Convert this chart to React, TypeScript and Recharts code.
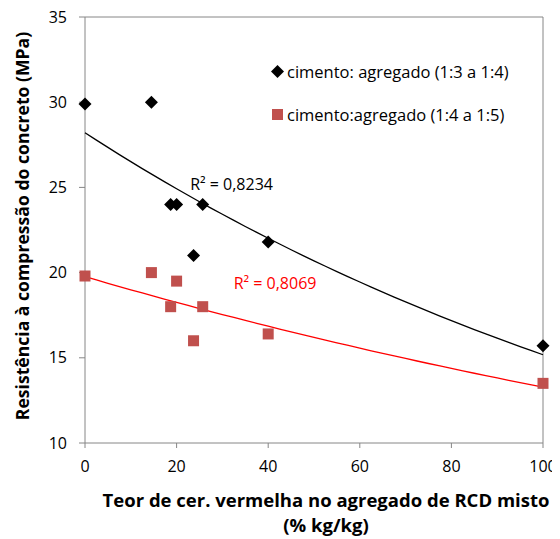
import React from 'react';
import { ScatterChart, Scatter, XAxis, YAxis, ReferenceLine, ReferenceDot, Label } from 'recharts';

const ratioA = [0, 14.5, 18.7, 20, 23.7, 25.7, 40, 100];
const strengthA = [29.9, 30, 24, 24, 21, 24, 21.8, 15.7];
const ratioB = [0, 14.5, 18.7, 20, 23.7, 25.7, 40, 100];
const strengthB = [19.8, 20, 18, 19.5, 16, 18, 16.4, 13.5];
const seriesNames = ['cimento: agregado (1:3 a 1:4)', 'cimento:agregado (1:4 a 1:5)'];
const r2Texts = ['R² = 0,8234', 'R² = 0,8069'];
const r2Anchor = [
  { x: 32, y: 25.2 },
  { x: 41.5, y: 19.4 },
];
const xTicks = [0, 20, 40, 60, 80, 100];
const yTicks = [10, 15, 20, 25, 30, 35];
const xTitle = ['Teor de cer. vermelha no agregado de RCD misto', '(% kg/kg)'];
const yTitle = 'Resistência à compressão do concreto (MPa)';

const FONT = '"Open Sans", "Liberation Sans", sans-serif';
const AXIS = '#868686';
const RED_MARK = '#C0504D';

function toPoints(xs: number[], ys: number[]) {
  return xs.map((x, i) => ({ x, y: ys[i] }));
}

// Exponential least-squares trendline (as the spreadsheet trendline)
function expTrend(xs: number[], ys: number[]) {
  const n = xs.length;
  const ly = ys.map((v) => Math.log(v));
  const mx = xs.reduce((a, b) => a + b, 0) / n;
  const my = ly.reduce((a, b) => a + b, 0) / n;
  let sxy = 0, sxx = 0;
  for (let i = 0; i < n; i++) {
    sxy += (xs[i] - mx) * (ly[i] - my);
    sxx += (xs[i] - mx) * (xs[i] - mx);
  }
  const b = sxy / sxx;
  const a = Math.exp(my - b * mx);
  const lo = Math.min(...xs), hi = Math.max(...xs);
  const pts = [];
  const steps = 40;
  for (let k = 0; k <= steps; k++) {
    const x = lo + ((hi - lo) * k) / steps;
    pts.push({ x, y: a * Math.exp(b * x) });
  }
  return pts;
}

const dataA = toPoints(ratioA, strengthA);
const dataB = toPoints(ratioB, strengthB);
const trendA = expTrend(ratioA, strengthA);
const trendB = expTrend(ratioB, strengthB);

const Diamond = (props: any) => {
  const { cx, cy } = props;
  const r = 6.5;
  return <polygon points={`${cx},${cy - r} ${cx + r},${cy} ${cx},${cy + r} ${cx - r},${cy}`} fill="#000" />;
};
const Square = (props: any) => {
  const { cx, cy } = props;
  const s = 11;
  return <rect x={cx - s / 2} y={cy - s / 2} width={s} height={s} fill={RED_MARK} />;
};
const NoShape = () => <g />;

const XTitle = (props: any) => {
  const vb = props.viewBox;
  const cx = vb.x + vb.width / 2 + 12;
  return (
    <text textAnchor="middle" fontFamily={FONT} fontWeight="bold" fontSize={18.5} fill="#000">
      <tspan x={cx} y={vb.y + vb.height + 34}>{xTitle[0]}</tspan>
      <tspan x={cx} y={vb.y + vb.height + 59}>{xTitle[1]}</tspan>
    </text>
  );
};

const YTitle = (props: any) => {
  const vb = props.viewBox;
  const cy = vb.y + vb.height / 2 - 4;
  const x = 14;
  return (
    <text
      x={x}
      y={cy}
      transform={`rotate(-90, ${x}, ${cy})`}
      textAnchor="middle"
      dominantBaseline="central"
      fontFamily={FONT}
      fontWeight="bold"
      fontSize={17.6}
      fill="#000"
    >
      {yTitle}
    </text>
  );
};

export default function App() {
  const W = 552;
  const H = 539;
  return (
    <div style={{ position: 'relative', width: W, height: H, marginTop: -8, fontFamily: FONT }}>
      <ScatterChart width={W} height={H} margin={{ top: 17, right: 17, bottom: 66, left: 17 }}>
        <XAxis
          type="number"
          dataKey="x"
          domain={[0, 100]}
          ticks={xTicks}
          height={30}
          axisLine={{ stroke: AXIS }}
          tickLine={{ stroke: AXIS }}
          tickSize={5}
          tickMargin={13}
          tick={{ fill: '#000', fontSize: 16, fontFamily: FONT }}
          interval={0}
        >
          <Label content={<XTitle />} />
        </XAxis>
        <YAxis
          type="number"
          dataKey="y"
          domain={[10, 35]}
          ticks={yTicks}
          width={60}
          axisLine={{ stroke: AXIS }}
          tickLine={{ stroke: AXIS }}
          tickSize={6}
          tickMargin={12}
          tick={{ fill: '#000', fontSize: 16, fontFamily: FONT }}
          interval={0}
        >
          <Label content={<YTitle />} />
        </YAxis>
        <ReferenceLine y={35} stroke={AXIS} />
        <ReferenceLine x={100} stroke={AXIS} />
        <Scatter data={trendA} line={{ stroke: '#000', strokeWidth: 1.3 }} lineType="joint" shape={<NoShape />} isAnimationActive={false} />
        <Scatter data={trendB} line={{ stroke: '#FF0000', strokeWidth: 1.3 }} lineType="joint" shape={<NoShape />} isAnimationActive={false} />
        <Scatter data={dataA} shape={<Diamond />} isAnimationActive={false} />
        <Scatter data={dataB} shape={<Square />} isAnimationActive={false} />
        <ReferenceDot
          x={r2Anchor[0].x}
          y={r2Anchor[0].y}
          r={0}
          stroke="none"
          label={{ value: r2Texts[0], position: 'center', fill: '#000', fontSize: 16, fontFamily: FONT }}
        />
        <ReferenceDot
          x={r2Anchor[1].x}
          y={r2Anchor[1].y}
          r={0}
          stroke="none"
          label={{ value: r2Texts[1], position: 'center', fill: '#FF0000', fontSize: 16, fontFamily: FONT }}
        />
      </ScatterChart>
      <div style={{ position: 'absolute', left: 262, top: 61, fontSize: 16.5, color: '#000', lineHeight: '22px' }}>
        <div style={{ display: 'flex', alignItems: 'center', height: 22 }}>
          <svg width={16} height={16} style={{ marginRight: 1 }}>
            <polygon points="7.5,1 14,7.5 7.5,14 1,7.5" fill="#000" />
          </svg>
          <span>{seriesNames[0]}</span>
        </div>
        <div style={{ display: 'flex', alignItems: 'center', height: 22, marginTop: 21 }}>
          <svg width={16} height={16} style={{ marginRight: 1 }}>
            <rect x={2} y={2} width={11} height={11} fill={RED_MARK} />
          </svg>
          <span>{seriesNames[1]}</span>
        </div>
      </div>
    </div>
  );
}
